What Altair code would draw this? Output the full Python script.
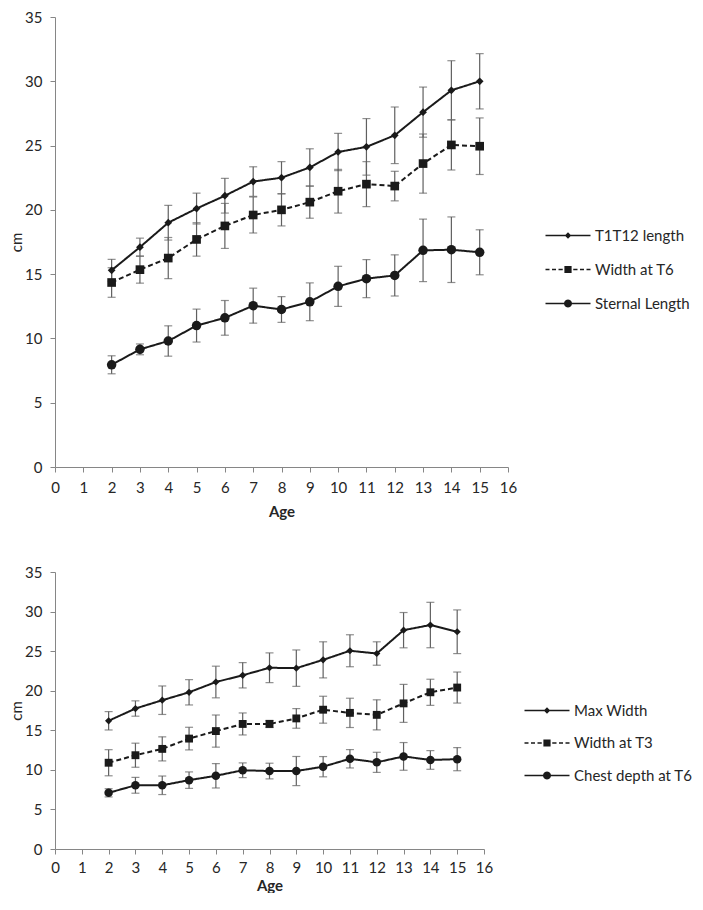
import math
import altair as alt
import pandas as pd

# ---------------- data ----------------
ages = [2, 3, 4, 5, 6, 7, 8, 9, 10, 11, 12, 13, 14, 15]

top_names = ["T1T12 length", "Width at T6", "Sternal Length"]
t1t12_mean = [15.3, 17.1, 19.0, 20.1, 21.1, 22.2, 22.5, 23.3, 24.5, 24.9, 25.8, 27.6, 29.3, 30.0]
t1t12_sd = [0.85, 0.7, 1.35, 1.2, 1.35, 1.15, 1.25, 1.45, 1.45, 2.2, 2.2, 1.95, 2.3, 2.15]
width_t6_mean = [14.35, 15.35, 16.25, 17.7, 18.75, 19.6, 20.0, 20.6, 21.45, 22.0, 21.85, 23.6, 25.05, 24.95]
width_t6_sd = [1.15, 1.05, 1.6, 1.3, 1.75, 1.4, 1.25, 1.25, 1.7, 1.75, 1.15, 2.3, 1.95, 2.2]
sternal_mean = [7.95, 9.15, 9.8, 11.0, 11.6, 12.55, 12.25, 12.85, 14.05, 14.65, 14.9, 16.85, 16.9, 16.7]
sternal_sd = [0.7, 0.42, 1.18, 1.28, 1.35, 1.36, 1.0, 1.47, 1.56, 1.48, 1.6, 2.43, 2.55, 1.75]

bottom_names = ["Max Width", "Width at T3", "Chest depth at T6"]
max_width_mean = [16.2, 17.75, 18.8, 19.8, 21.1, 21.95, 22.9, 22.85, 23.9, 25.05, 24.7, 27.65, 28.3, 27.45]
max_width_sd = [1.16, 0.97, 1.8, 1.6, 2.0, 1.6, 1.88, 2.3, 2.28, 2.02, 1.48, 2.23, 2.87, 2.76]
width_t3_mean = [10.9, 11.85, 12.65, 13.95, 14.9, 15.8, 15.8, 16.5, 17.6, 17.2, 16.95, 18.4, 19.8, 20.4]
width_t3_sd = [1.65, 1.52, 1.52, 1.43, 2.03, 1.39, 0.45, 1.24, 1.7, 1.85, 1.9, 2.4, 1.65, 1.96]
chest_mean = [7.1, 8.05, 8.05, 8.7, 9.25, 9.95, 9.85, 9.85, 10.4, 11.4, 10.95, 11.7, 11.25, 11.35]
chest_sd = [0.52, 1.0, 1.17, 1.04, 1.54, 0.93, 0.99, 1.84, 1.28, 1.16, 1.27, 1.75, 1.18, 1.46]

x_ticks = list(range(0, 17))
y_ticks = [0, 5, 10, 15, 20, 25, 30, 35]

FONT = "Lato"
INK = "#1a1a1a"
TEXT = "#262626"
AXIS_GREY = "#868686"
ERR = "#606060"


def long_df(names, means, sds):
    rows = []
    for name, m, s in zip(names, means, sds):
        for a, v, e in zip(ages, m, s):
            rows.append({"age": a, "series": name, "value": v, "lo": v - e, "hi": v + e})
    return pd.DataFrame(rows)


# ---------------- legend glyphs (line + marker as one filled path) ----------------
def seg(x0, x1, h=0.16):
    return f"M{x0},{-h}L{x1},{-h}L{x1},{h}L{x0},{h}Z"


def glyph(marker, dashed):
    cx = 3.5
    if marker == "diamond":
        r = 0.65
        m = f"M{cx},{-r}L{cx + r},0L{cx},{r}L{cx - r},0Z"
    elif marker == "square":
        r = 0.72
        m = f"M{cx - r},{-r}L{cx + r},{-r}L{cx + r},{r}L{cx - r},{r}Z"
    else:
        r = 0.8
        pts = []
        for k in range(24):
            ang = 2 * math.pi * k / 24
            pts.append(f"{cx + r * math.cos(ang):.3f},{r * math.sin(ang):.3f}")
        m = "M" + "L".join(pts) + "Z"
    if dashed:
        parts = [seg(-1, -0.2), seg(0.3, 1.1), seg(1.6, 2.45), seg(4.55, 5.4), seg(5.9, 6.7), seg(7.2, 8.0)]
    else:
        parts = [seg(-1, 8)]
    return "".join(parts) + m


def panel(names, means, sds, width, height, sizes, legend_x, legend_y, row_pad, x_label_pad, x_title_pad):
    df = long_df(names, means, sds)
    base = alt.Chart(df)
    xscale = alt.Scale(domain=[0, 16], nice=False)
    yscale = alt.Scale(domain=[0, 35], nice=False)
    xaxis = alt.Axis(values=x_ticks, format="d", labelOverlap=False, labelFlush=False,
                     titleFontWeight="bold", titleFontSize=15,
                     titlePadding=x_title_pad, labelPadding=x_label_pad)
    yaxis = alt.Axis(values=y_ticks, labelOverlap=False, labelFlush=False,
                     titleFontWeight="normal", titleFontSize=15,
                     titleX=-31, labelPadding=8)

    def X():
        return alt.X("age:Q", title="Age", scale=xscale, axis=xaxis)

    def Y(field):
        return alt.Y(field, title="cm", scale=yscale, axis=yaxis)

    rules = base.mark_rule(color=ERR, strokeWidth=1.2).encode(
        x=X(), y=Y("lo:Q"), y2="hi:Q")
    caps_lo = base.mark_tick(orient="horizontal", color=ERR, size=8, thickness=1.2).encode(
        x=X(), y=Y("lo:Q"))
    caps_hi = base.mark_tick(orient="horizontal", color=ERR, size=8, thickness=1.2).encode(
        x=X(), y=Y("hi:Q"))

    lines = base.mark_line(color=INK, strokeWidth=2).encode(
        x=X(), y=Y("value:Q"),
        strokeDash=alt.StrokeDash("series:N", legend=None,
                                  scale=alt.Scale(domain=names, range=[[1, 0], [5, 3], [1, 0]])),
        detail="series:N")

    points = base.mark_point(filled=True, color=INK, opacity=1).encode(
        x=X(), y=Y("value:Q"),
        shape=alt.Shape("series:N", legend=None,
                        scale=alt.Scale(domain=names, range=["diamond", "square", "circle"])),
        size=alt.Size("series:N", legend=None, scale=alt.Scale(domain=names, range=sizes)))

    glyphs = [glyph("diamond", False), glyph("square", True), glyph("circle", False)]
    legend_layer = base.mark_point(filled=True, color=INK, opacity=0).encode(
        x=X(), y=Y("value:Q"),
        shape=alt.Shape("series:N",
                        scale=alt.Scale(domain=names, range=glyphs),
                        legend=alt.Legend(orient="none", legendX=legend_x, legendY=legend_y,
                                          title=None, symbolSize=100, labelOffset=37,
                                          labelFont=FONT, labelFontSize=15, labelColor=TEXT,
                                          rowPadding=row_pad, symbolOpacity=1, symbolStrokeWidth=0,
                                          symbolFillColor=INK, symbolStrokeColor=INK)))

    return alt.layer(rules, caps_lo, caps_hi, lines, points, legend_layer).resolve_scale(
        shape="independent").resolve_legend(shape="independent").properties(
        width=width, height=height)


top = panel(top_names, [t1t12_mean, width_t6_mean, sternal_mean],
            [t1t12_sd, width_t6_sd, sternal_sd], 453, 450, [60, 90, 85], 488, 211, 18, 8, 9)
bottom = panel(bottom_names, [max_width_mean, width_t3_mean, chest_mean],
               [max_width_sd, width_t3_sd, chest_sd], 429, 277, [52, 72, 70], 467, 131, 16.5, 6, 3)

chart = alt.vconcat(top, bottom, spacing=46).resolve_scale(
    shape="independent", strokeDash="independent", size="independent").resolve_legend(
    shape="independent").properties(
    padding={"left": 1, "top": 2, "right": 0, "bottom": 0}
).configure_view(stroke=None).configure_axis(
    grid=False, domainColor=AXIS_GREY, tickColor=AXIS_GREY, tickSize=5,
    labelFont=FONT, labelFontSize=15, labelColor=TEXT,
    titleFont=FONT, titleColor=TEXT
)

chart.save("out.html", embed_options={"renderer": "svg", "actions": False})
